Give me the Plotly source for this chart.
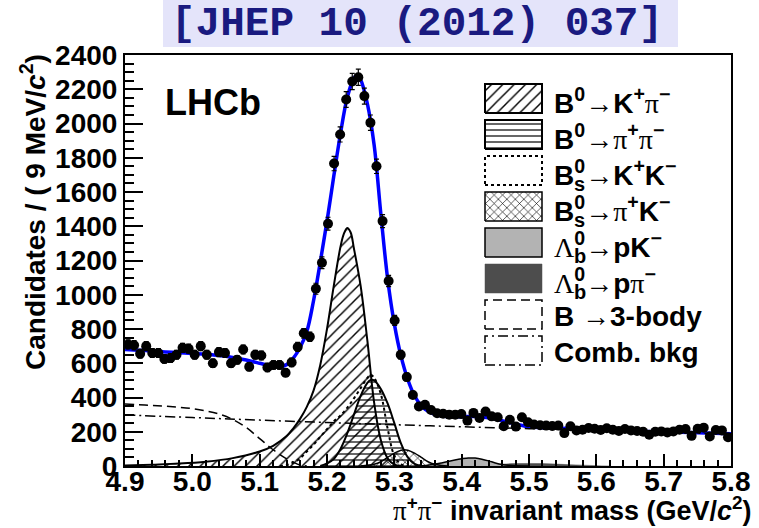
import numpy as np
import plotly.graph_objects as go

# ---------------- data ----------------
BIN_START = 4.9
BIN_WIDTH = 0.009
COUNTS = [710, 705, 655, 700, 660, 660, 625, 630, 650, 690,
          685, 650, 700, 650, 600, 665, 660, 600, 620, 680,
          580, 650, 645, 575, 590, 590, 545, 605, 695, 775,
          755, 1035, 1187, 1415, 1766, 1936, 2140, 2245, 2270, 2160,
          2005, 1750, 1430, 1080, 850, 650, 519, 415, 347, 357,
          327, 308, 305, 300, 300, 303, 265, 310, 280, 318,
          290, 285, 232, 270, 230, 285, 255, 242, 238, 236,
          234, 236, 192, 232, 208, 212, 222, 218, 210, 220,
          212, 204, 216, 208, 204, 200, 182, 200, 202, 196,
          202, 212, 216, 176, 218, 224, 172, 210, 208, 168]

FIT_X = [4.90, 4.92, 4.94, 4.96, 4.98, 5.00, 5.02, 5.04, 5.06, 5.08, 5.10, 5.11, 5.12,
         5.13, 5.14, 5.15, 5.16, 5.17, 5.18, 5.19, 5.20, 5.21, 5.22, 5.23, 5.24, 5.245,
         5.25, 5.26, 5.27, 5.28, 5.29, 5.30, 5.31, 5.32, 5.33, 5.34, 5.35, 5.36, 5.38,
         5.40, 5.42, 5.44, 5.46, 5.48, 5.50, 5.52, 5.55, 5.60, 5.65, 5.70, 5.75, 5.80]
FIT_Y = [680, 676, 671, 666, 662, 657, 652, 645, 634, 619, 600, 590, 582,
         580, 592, 630, 692, 785, 965, 1190, 1430, 1690, 1940, 2150, 2265, 2280,
         2255, 2115, 1875, 1470, 1095, 830, 640, 505, 410, 352, 320, 302, 288,
         288, 289, 282, 265, 245, 229, 224, 220, 211, 205, 199, 194, 188]

KPI_X = [4.90, 4.94, 4.98, 5.02, 5.06, 5.10, 5.12, 5.14, 5.15, 5.16, 5.17, 5.18, 5.19,
         5.20, 5.21, 5.22, 5.225, 5.23, 5.235, 5.24, 5.25, 5.26, 5.27, 5.28, 5.29, 5.30, 5.31]
KPI_Y = [3, 8, 14, 25, 46, 85, 118, 175, 220, 275, 345, 440, 590,
         800, 1050, 1280, 1355, 1390, 1365, 1270, 1050, 730, 370, 150, 45, 8, 0]

PIPI_X = [5.19, 5.20, 5.21, 5.22, 5.23, 5.24, 5.25, 5.26, 5.265, 5.27, 5.28, 5.29,
          5.30, 5.31, 5.32, 5.33, 5.34]
PIPI_Y = [0, 15, 40, 100, 190, 300, 410, 485, 503, 500, 450, 365, 250, 130, 50, 12, 0]

KK_X = [5.13, 5.14, 5.15, 5.16, 5.17, 5.18, 5.19, 5.20, 5.21, 5.22, 5.23, 5.24, 5.25,
        5.26, 5.265, 5.27, 5.28, 5.29, 5.30, 5.31, 5.32]
KK_Y = [0, 5, 20, 45, 85, 125, 170, 215, 260, 295, 340, 395, 455, 515, 532, 515, 420,
        220, 60, 10, 0]

PIK_X = [5.25, 5.27, 5.28, 5.29, 5.30, 5.31, 5.315, 5.32, 5.33, 5.34, 5.35, 5.36, 5.37, 5.38]
PIK_Y = [0, 10, 25, 50, 75, 92, 95, 92, 75, 50, 25, 10, 3, 0]

LBPK_X = [5.33, 5.35, 5.37, 5.39, 5.40, 5.41, 5.42, 5.43, 5.44, 5.45, 5.46, 5.47, 5.48, 5.50]
LBPK_Y = [0, 5, 18, 35, 42, 47, 46, 40, 30, 18, 9, 4, 1, 0]

LBPPI_X = [5.40, 5.42, 5.44, 5.46, 5.48, 5.50, 5.52, 5.54, 5.56, 5.58, 5.60, 5.62]
LBPPI_Y = [0, 3, 7, 11, 14, 15, 14, 11, 8, 5, 2, 0]

THREEBODY_X = [4.90, 4.92, 4.94, 4.96, 4.98, 5.00, 5.02, 5.04, 5.06, 5.08, 5.10, 5.12,
               5.14, 5.15, 5.16, 5.17]
THREEBODY_Y = [362, 358, 354, 349, 343, 335, 322, 303, 272, 225, 160, 95, 42, 22, 6, 0]

COMB_X = [4.9, 5.0, 5.1, 5.2, 5.3, 5.4, 5.5, 5.6, 5.7, 5.8]
COMB_Y = [298, 283, 268, 254, 241, 229, 218, 207, 197, 187]

X_TICKS = [4.9, 5.0, 5.1, 5.2, 5.3, 5.4, 5.5, 5.6, 5.7, 5.8]
X_TICK_LABELS = ["4.9", "5.0", "5.1", "5.2", "5.3", "5.4", "5.5", "5.6", "5.7", "5.8"]
Y_TICKS = [0, 200, 400, 600, 800, 1000, 1200, 1400, 1600, 1800, 2000, 2200, 2400]

SERIF = '<span style="font-family:\'Liberation Serif\';font-weight:normal">%s</span>'
PI = SERIF % "π"
LAM = SERIF % "Λ"
ARROW = "→"
LEGEND_MAIN = [
    "B<sup>0</sup>" + ARROW + "K<sup>+</sup>" + PI + "<sup>−</sup>",
    "B<sup>0</sup>" + ARROW + PI + "<sup>+</sup>" + PI + "<sup>−</sup>",
    "B<sup>0</sup>" + ARROW + "K<sup>+</sup>K<sup>−</sup>",
    "B<sup>0</sup>" + ARROW + PI + "<sup>+</sup>K<sup>−</sup>",
    LAM + "<sup>0</sup>" + ARROW + "pK<sup>−</sup>",
    LAM + "<sup>0</sup>" + ARROW + "p" + PI + "<sup>−</sup>",
    "B " + ARROW + "3-body",
    "Comb. bkg",
]
LEGEND_SUB = ["", "", "s", "s", "b", "b", "", ""]

TITLE_TEXT = "[JHEP 10 (2012) 037]"
X_TITLE = PI + "<sup>+</sup>" + PI + "<sup>−</sup> invariant mass (GeV/<i>c</i><sup>2</sup>)"
Y_TITLE = "Candidates / ( 9 MeV/<i>c</i><sup>2</sup>)"

# ---------------- layout geometry ----------------
W, H = 759, 528
ML, MR, MT, MB = 125, 28, 55, 62
PW, PH = W - ML - MR, H - MT - MB


def px_x(px):
    return (px - ML) / PW


def px_y(py):
    return (H - MB - py) / PH


FONT = "Liberation Sans"
bin_centers = [BIN_START + BIN_WIDTH * (k + 0.5) for k in range(len(COUNTS))]
errors = np.sqrt(np.array(COUNTS, dtype=float))

fig = go.Figure()

# total fit
fig.add_trace(go.Scatter(x=FIT_X, y=FIT_Y, mode="lines", line=dict(color="#0000ff", width=3.5, shape="spline"),
                         hoverinfo="skip"))

components = [
    dict(x=KPI_X, y=KPI_Y, line=dict(color="black", width=2), fill=True,
         pattern=dict(shape="/", fgcolor="black", bgcolor="rgba(0,0,0,0)", size=8, solidity=0.18), fillcolor=None),
    dict(x=PIPI_X, y=PIPI_Y, line=dict(color="black", width=2), fill=True,
         pattern=dict(shape="-", fgcolor="black", bgcolor="rgba(0,0,0,0)", size=6, solidity=0.2), fillcolor=None),
    dict(x=KK_X, y=KK_Y, line=dict(color="black", width=2, dash="dot"), fill=False, pattern=None, fillcolor=None),
    dict(x=PIK_X, y=PIK_Y, line=dict(color="black", width=1.5), fill=True,
         pattern=dict(shape="x", fgcolor="black", bgcolor="rgba(0,0,0,0)", size=6, solidity=0.2), fillcolor=None),
    dict(x=LBPK_X, y=LBPK_Y, line=dict(color="black", width=1.5), fill=True, pattern=None, fillcolor="#b3b3b3"),
    dict(x=LBPPI_X, y=LBPPI_Y, line=dict(color="#4d4d4d", width=0.5), fill=True, pattern=None, fillcolor="#4d4d4d"),
    dict(x=THREEBODY_X, y=THREEBODY_Y, line=dict(color="black", width=1.5, dash="9px,5px"), fill=False,
         pattern=None, fillcolor=None),
    dict(x=COMB_X, y=COMB_Y, line=dict(color="black", width=1.5, dash="10px,4px,2px,4px"), fill=False,
         pattern=None, fillcolor=None),
]

draw_order = [5, 4, 0, 1, 3, 2, 6, 7]
for i in draw_order:
    c = components[i]
    kw = dict(x=c["x"], y=c["y"], mode="lines", line=dict(shape="spline", **c["line"]), hoverinfo="skip")
    if c["fill"]:
        kw["fill"] = "tozeroy"
        if c["pattern"] is not None:
            kw["fillpattern"] = dict(fillmode="replace", **c["pattern"])
            kw["fillcolor"] = "rgba(0,0,0,0)"
        else:
            kw["fillcolor"] = c["fillcolor"]
    fig.add_trace(go.Scatter(**kw))

# data points
fig.add_trace(go.Scatter(x=bin_centers, y=COUNTS, mode="markers",
                         marker=dict(color="black", size=10),
                         error_y=dict(type="data", array=errors, color="black", thickness=1.2, width=2.5),
                         hoverinfo="skip"))

# legend boxes on an overlay axis
LEG_X0, LEG_X1 = 485, 542
LEG_TOP0, LEG_H, LEG_STEP = 84, 29, 36
LEG_TEXT_X = 552
annotations = []
for i, c in enumerate(components):
    top = LEG_TOP0 + i * LEG_STEP
    bot = top + LEG_H
    x0, x1 = px_x(LEG_X0), px_x(LEG_X1)
    y0, y1 = px_y(bot), px_y(top)
    kw = dict(x=[x0, x1, x1, x0, x0], y=[y0, y0, y1, y1, y0], mode="lines",
              line=dict(c["line"]), xaxis="x2", yaxis="y2", hoverinfo="skip", fill="toself")
    if c["pattern"] is not None:
        kw["fillpattern"] = dict(fillmode="replace", **c["pattern"])
        kw["fillcolor"] = "rgba(0,0,0,0)"
    elif c["fillcolor"] is not None:
        kw["fillcolor"] = c["fillcolor"]
    else:
        kw["fillcolor"] = "rgba(255,255,255,0)"
    fig.add_trace(go.Scatter(**kw))
    cy = (top + bot) / 2
    annotations.append(dict(x=px_x(LEG_TEXT_X), y=px_y(cy + 2), xref="paper", yref="paper",
                            text=LEGEND_MAIN[i], showarrow=False, xanchor="left", yanchor="middle",
                            font=dict(family=FONT, size=28, color="black", weight="bold")))
    if LEGEND_SUB[i]:
        annotations.append(dict(x=px_x(LEG_TEXT_X + 19.5), y=px_y(cy + 13), xref="paper", yref="paper",
                                text=LEGEND_SUB[i], showarrow=False, xanchor="left", yanchor="middle",
                                font=dict(family=FONT, size=20, color="black", weight="bold")))

annotations.append(dict(x=px_x(163), y=px_y(103), xref="paper", yref="paper", text="LHCb", showarrow=False,
                        xanchor="left", yanchor="middle",
                        font=dict(family=FONT, size=36, color="black", weight="bold")))
annotations.append(dict(x=px_x(33), y=px_y(212), xref="paper", yref="paper", text=Y_TITLE, showarrow=False,
                        textangle=-90, xanchor="center", yanchor="middle",
                        font=dict(family=FONT, size=28, color="black", weight="bold")))
annotations.append(dict(x=px_x(754), y=px_y(509), xref="paper", yref="paper", text=X_TITLE, showarrow=False,
                        xanchor="right", yanchor="middle",
                        font=dict(family=FONT, size=27, color="black", weight="bold")))
annotations.append(dict(x=px_x(417), y=px_y(24), xref="paper", yref="paper", text=TITLE_TEXT, showarrow=False,
                        xanchor="center", yanchor="middle",
                        font=dict(family="Liberation Mono", size=41, color="#1a1a80", weight="bold")))

shapes = [dict(type="rect", xref="paper", yref="paper", x0=px_x(163), x1=px_x(678), y0=px_y(47), y1=px_y(0),
               fillcolor="#e4e4fa", line=dict(width=0), layer="below")]

fig.update_layout(
    width=W, height=H, margin=dict(l=ML, r=MR, t=MT, b=MB, autoexpand=False),
    paper_bgcolor="white", plot_bgcolor="white", showlegend=False,
    annotations=annotations, shapes=shapes,
    xaxis=dict(range=[4.9, 5.8], tickvals=X_TICKS, ticktext=X_TICK_LABELS, ticks="inside", ticklen=12,
               tickwidth=1.5, tickcolor="black", showgrid=False, zeroline=False,
               showline=True, linecolor="black", linewidth=2, mirror=True, ticklabelstandoff=-11,
               minor=dict(ticks="inside", ticklen=6, dtick=0.02, tickcolor="black", tickwidth=1.5, showgrid=False),
               tickfont=dict(family=FONT, size=28, color="black", weight="bold")),
    yaxis=dict(range=[0, 2400], tickvals=Y_TICKS, ticks="inside", ticklen=18, tickwidth=1.5, tickcolor="black",
               showgrid=False, zeroline=False, showline=True, linecolor="black", linewidth=2, mirror=True,
               minor=dict(ticks="inside", ticklen=9, dtick=50, tickcolor="black", tickwidth=1.5, showgrid=False),
               tickfont=dict(family=FONT, size=28, color="black", weight="bold")),
    xaxis2=dict(overlaying="x", range=[0, 1], visible=False, fixedrange=True),
    yaxis2=dict(overlaying="y", range=[0, 1], visible=False, fixedrange=True),
)

fig.write_html("out.html")
